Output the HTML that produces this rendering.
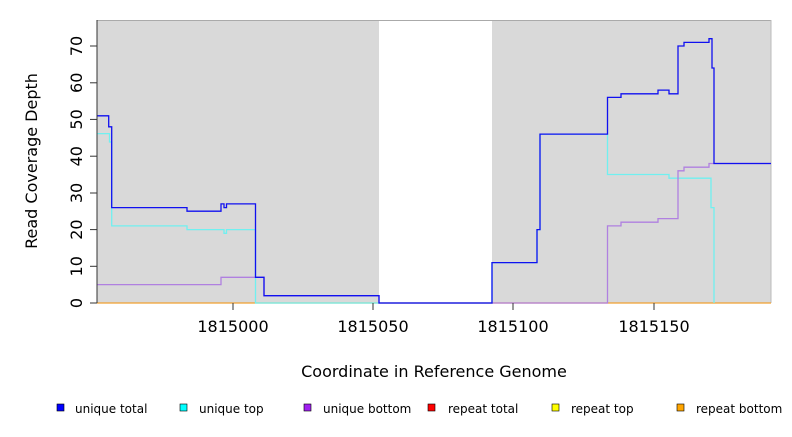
<!DOCTYPE html><html><head><style>body{margin:0;background:#fff}svg{font-family:"DejaVu Sans","Liberation Sans",sans-serif}</style></head><body>
<svg width="792" height="432" xmlns="http://www.w3.org/2000/svg">
<rect x="97" y="20" width="282" height="283" fill="#d9d9d9"/>
<rect x="492" y="20" width="279" height="283" fill="#d9d9d9"/>
<line x1="97" y1="20.5" x2="771" y2="20.5" stroke="#aaa"/>
<line x1="771" y1="20" x2="771" y2="303" stroke="#bbb"/>
<g fill="none" stroke-width="1.3">
<polyline stroke="#f0a030" points="97,303 771,303"/>
<polyline stroke="#70f0f0" points="97,133.6 109.5,133.6 109.5,142 111.7,142 111.7,225.9 187,225.9 187,229.6 224,229.6 224,233.3 226.5,233.3 226.5,229.6 255.5,229.6 255.5,303 492,303 492,262.6 537,262.6 537,229.6 540,229.6 540,134.1 607.5,134.1 607.5,174.5 669,174.5 669,178.2 711,178.2 711,207.6 714,207.6 714,303"/>
<polyline stroke="#b080e0" points="97,284.6 221,284.6 221,277.3 264,277.3 264,295.7 379,295.7 379,303 607.5,303 607.5,225.9 621,225.9 621,222.2 658,222.2 658,218.6 678,218.6 678,170.8 684,170.8 684,167.2 709,167.2 709,163.5 771,163.5"/>
<polyline stroke="#1010f0" points="97,115.8 108.7,115.8 108.7,126.8 111.7,126.8 111.7,207.6 187,207.6 187,211.2 221,211.2 221,203.9 224,203.9 224,207.6 226.5,207.6 226.5,203.9 255.5,203.9 255.5,277.3 264,277.3 264,295.7 379,295.7 379,303 492,303 492,262.6 537,262.6 537,229.6 540,229.6 540,134.1 607.5,134.1 607.5,97.4 621,97.4 621,93.8 658,93.8 658,90.1 669,90.1 669,93.8 678,93.8 678,46 684,46 684,42.4 709,42.4 709,38.7 712,38.7 712,68 714,68 714,163.5 771,163.5"/>
</g>
<g stroke="#333"><line x1="97" y1="20" x2="97" y2="303"/>
<line x1="90" y1="303" x2="97" y2="303"/><line x1="90" y1="266.3" x2="97" y2="266.3"/><line x1="90" y1="229.6" x2="97" y2="229.6"/><line x1="90" y1="193" x2="97" y2="193"/><line x1="90" y1="156.2" x2="97" y2="156.2"/><line x1="90" y1="119.4" x2="97" y2="119.4"/><line x1="90" y1="82.8" x2="97" y2="82.8"/><line x1="90" y1="46" x2="97" y2="46"/>
<line x1="233" y1="303" x2="233" y2="310"/><line x1="373" y1="303" x2="373" y2="310"/><line x1="513" y1="303" x2="513" y2="310"/><line x1="654" y1="303" x2="654" y2="310"/></g>
<g font-size="16" text-anchor="middle" fill="#000">
<text transform="translate(76,303) rotate(-90)" dy="6">0</text>
<text transform="translate(76,266.3) rotate(-90)" dy="6">10</text>
<text transform="translate(76,229.6) rotate(-90)" dy="6">20</text>
<text transform="translate(76,193) rotate(-90)" dy="6">30</text>
<text transform="translate(76,156.2) rotate(-90)" dy="6">40</text>
<text transform="translate(76,119.4) rotate(-90)" dy="6">50</text>
<text transform="translate(76,82.8) rotate(-90)" dy="6">60</text>
<text transform="translate(76,46) rotate(-90)" dy="6">70</text>
<text x="233" y="332">1815000</text><text x="373" y="332">1815050</text><text x="513" y="332">1815100</text><text x="654" y="332">1815150</text>
<text x="434" y="377">Coordinate in Reference Genome</text>
<text transform="translate(37,161) rotate(-90)">Read Coverage Depth</text>
</g>
<g font-size="12" fill="#000" stroke="#000" stroke-width="0.6">
<rect x="57" y="404" width="7" height="7" fill="#0000ff"/><text x="75" y="413" stroke="none">unique total</text>
<rect x="180" y="404" width="7" height="7" fill="#00ffff"/><text x="199" y="413" stroke="none">unique top</text>
<rect x="304" y="404" width="7" height="7" fill="#a020f0"/><text x="323" y="413" stroke="none">unique bottom</text>
<rect x="428" y="404" width="7" height="7" fill="#ff0000"/><text x="448" y="413" stroke="none">repeat total</text>
<rect x="552" y="404" width="7" height="7" fill="#ffff00"/><text x="571" y="413" stroke="none">repeat top</text>
<rect x="677" y="404" width="7" height="7" fill="#ffa500"/><text x="696" y="413" stroke="none">repeat bottom</text>
</g>
</svg></body></html>
